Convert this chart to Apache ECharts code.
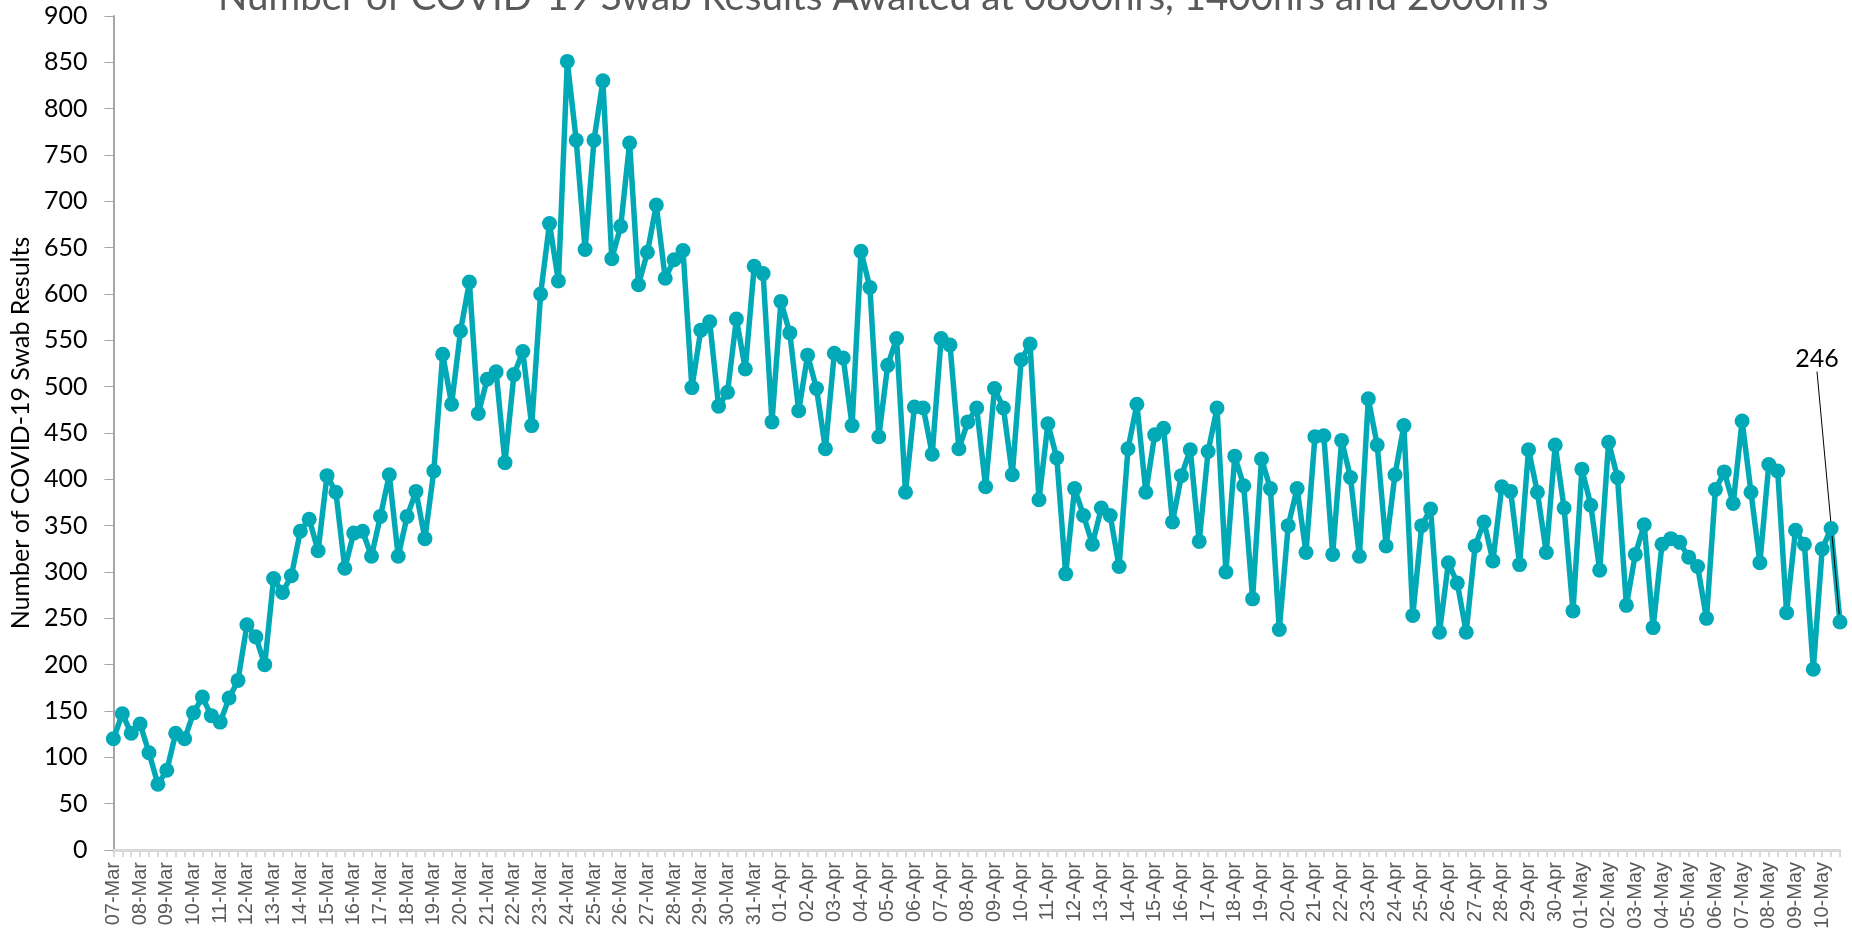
<!DOCTYPE html>
<html>
<head>
<meta charset="utf-8">
<title>COVID-19 Swab Results Awaited</title>
<script src="https://cdn.jsdelivr.net/npm/echarts@6/dist/echarts.min.js"></script>
<style>
  html, body { margin: 0; padding: 0; background: #ffffff; }
  #chart { width: 1852px; height: 943px; }
</style>
</head>
<body>
<div id="chart"></div>
<script>
// one entry per day, three readings a day
const days = [
  "07-Mar", "08-Mar", "09-Mar", "10-Mar", "11-Mar", "12-Mar", "13-Mar", "14-Mar", "15-Mar", "16-Mar",
  "17-Mar", "18-Mar", "19-Mar", "20-Mar", "21-Mar", "22-Mar", "23-Mar", "24-Mar", "25-Mar", "26-Mar",
  "27-Mar", "28-Mar", "29-Mar", "30-Mar", "31-Mar",
  "01-Apr", "02-Apr", "03-Apr", "04-Apr", "05-Apr", "06-Apr", "07-Apr", "08-Apr", "09-Apr", "10-Apr",
  "11-Apr", "12-Apr", "13-Apr", "14-Apr", "15-Apr", "16-Apr", "17-Apr", "18-Apr", "19-Apr", "20-Apr",
  "21-Apr", "22-Apr", "23-Apr", "24-Apr", "25-Apr", "26-Apr", "27-Apr", "28-Apr", "29-Apr", "30-Apr",
  "01-May", "02-May", "03-May", "04-May", "05-May", "06-May", "07-May", "08-May", "09-May", "10-May"
];
const times = ["0800hrs", "1400hrs", "2000hrs"];

// swab results awaited (0800, 1400, 2000 for each day)
const awaited = [
  120, 147, 126,   136, 105, 71,    86, 126, 120,    148, 165, 145,
  138, 164, 183,   243, 230, 200,   293, 278, 296,   344, 357, 323,
  404, 386, 304,   342, 344, 317,   360, 405, 317,   360, 387, 336,
  409, 535, 481,   560, 613, 471,   508, 516, 418,   513, 538, 458,
  600, 676, 614,   851, 766, 648,   766, 830, 638,   673, 763, 610,
  645, 696, 617,   637, 647, 499,   561, 570, 479,   494, 573, 519,
  630, 622, 462,   592, 558, 474,   534, 498, 433,   536, 531, 458,
  646, 607, 446,   523, 552, 386,   478, 477, 427,   552, 545, 433,
  462, 477, 392,   498, 477, 405,   529, 546, 378,   460, 423, 298,
  390, 361, 330,   369, 361, 306,   433, 481, 386,   448, 455, 354,
  404, 432, 333,   430, 477, 300,   425, 393, 271,   422, 390, 238,
  350, 390, 321,   446, 447, 319,   442, 402, 317,   487, 437, 328,
  405, 458, 253,   350, 368, 235,   310, 288, 235,   328, 354, 312,
  392, 387, 308,   432, 386, 321,   437, 369, 258,   411, 372, 302,
  440, 402, 264,   319, 351, 240,   330, 336, 332,   316, 306, 250,
  389, 408, 374,   463, 386, 310,   416, 409, 256,   345, 330, 195,
  325, 347, 246
];

const categories = [];
days.forEach(function (d) {
  times.forEach(function (t) {
    categories.push(d + " " + t);
  });
});

const teal = "#00a9b5";

// only the latest reading carries a data label
const seriesData = awaited.map(function (v, i) {
  if (i === awaited.length - 1) {
    return {
      value: v,
      label: {
        show: true,
        position: "top",
        color: "#000000",
        fontSize: 25,
        fontFamily: "Lato",
      },
      labelLine: {
        show: true,
        lineStyle: { color: "#000000", width: 1 },
      },
    };
  }
  return v;
});

var myChart = echarts.init(document.getElementById("chart"));
let options = {
  animation: false,
  title: {
    text: "Number of COVID-19 Swab Results Awaited at 0800hrs, 1400hrs and 2000hrs",
    left: 213,
    top: -27,
    textStyle: {
      color: "#595959",
      fontFamily: "Lato",
      fontWeight: "normal",
      fontSize: 38.5,
    },
  },
  grid: {
    left: 112,
    right: 12,
    top: 16,
    bottom: 93,
  },
  xAxis: {
    type: "category",
    boundaryGap: false,
    data: categories,
    axisLine: {
      show: true,
      lineStyle: { color: "#d9d9d9", width: 3 },
    },
    axisTick: {
      show: true,
      interval: 0,
      length: 7,
      lineStyle: { color: "#d9d9d9", width: 2 },
    },
    axisLabel: {
      interval: 2,
      rotate: 90,
      margin: 12,
      color: "#595959",
      fontFamily: "Liberation Sans",
      fontSize: 20,
      formatter: function (v) {
        return v.split(" ")[0];
      },
    },
    splitLine: { show: false },
  },
  yAxis: {
    type: "value",
    min: 0,
    max: 900,
    interval: 50,
    name: "Number of COVID-19 Swab Results",
    nameLocation: "middle",
    nameGap: 80,
    nameTextStyle: {
      color: "#000000",
      fontFamily: "Lato",
      fontSize: 25,
    },
    axisLine: {
      show: true,
      lineStyle: { color: "#a6a6a6", width: 2 },
    },
    axisTick: {
      show: true,
      length: 9,
      lineStyle: { color: "#a6a6a6", width: 1 },
    },
    axisLabel: {
      color: "#000000",
      fontFamily: "Lato",
      fontSize: 25,
      margin: 26,
    },
    splitLine: { show: false },
  },
  series: [
    {
      type: "line",
      data: seriesData,
      symbol: "circle",
      symbolSize: 15,
      showAllSymbol: true,
      lineStyle: { color: teal, width: 5.5 },
      itemStyle: { color: teal },
      labelLayout: { dx: -23, dy: -238 },
      labelLine: { show: false },
      emphasis: { disabled: true },
    },
  ],
};
myChart.setOption(options);
</script>
</body>
</html>
